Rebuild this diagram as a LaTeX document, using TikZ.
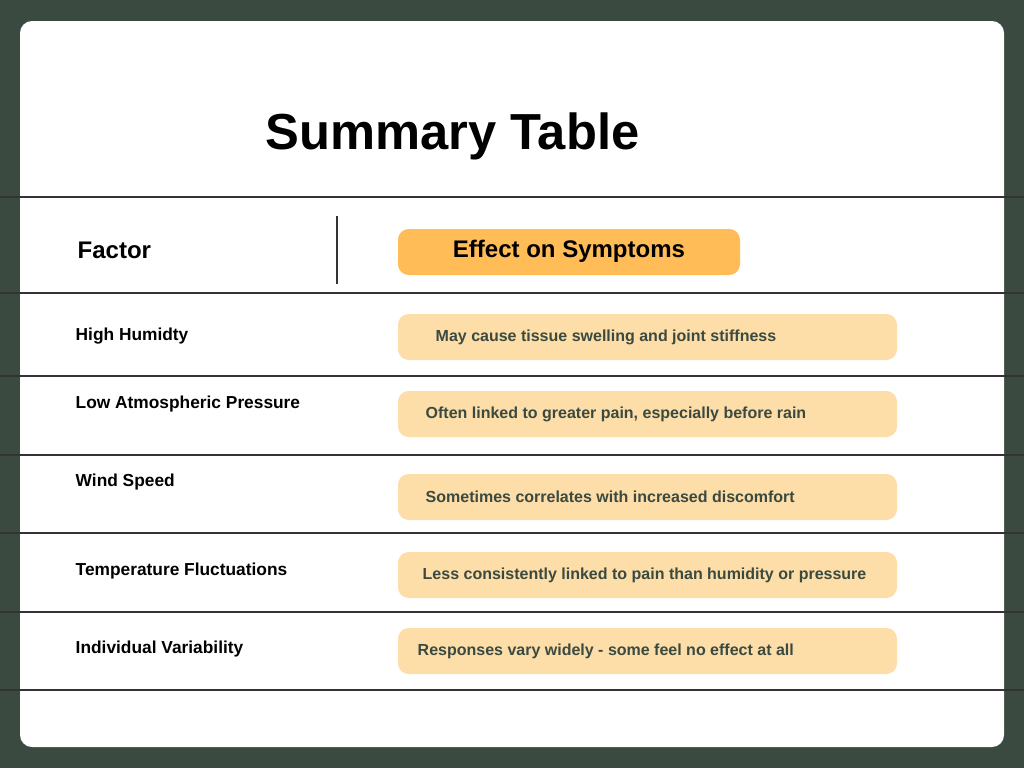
\documentclass[tikz,border=0pt]{standalone}
\usepackage{fontspec}
\setmainfont{Liberation Sans}
\definecolor{darkbg}{HTML}{3B4A40}
\definecolor{headpill}{HTML}{FFBC57}
\definecolor{rowpill}{HTML}{FDDDA8}
\definecolor{pilltext}{HTML}{3B4A40}
\tikzset{
  rowline/.style={line width=0.9pt, draw=black!80},
  factor/.style={anchor=west, font=\bfseries\fontsize{13}{15}\selectfont},
  effect/.style={anchor=west, text=pilltext, font=\bfseries\fontsize{12}{14}\selectfont},
}
\begin{document}
\begin{tikzpicture}[x=0.75pt,y=-0.75pt]
  %%%%% background and card %%%%%
  \fill[darkbg] (0,0) rectangle (1024,768);
  \useasboundingbox (0,0) rectangle (1024,768);
  \fill[white, rounded corners=9pt] (20,21) rectangle (1004,747);

  \node[anchor=west, font=\bfseries\fontsize{38}{44}\selectfont] (title) at (261,136) {Summary Table};

  %%%%% rules %%%%%
  \foreach \y in {197,293,376,455,533,612,690}
    \draw[rowline] (0,\y) -- (1024,\y);
  \draw[black!80, line width=0.8pt] (337,216) -- (337,284);

  %%%%% header %%%%%
  \node[factor, font=\bfseries\fontsize{18}{21}\selectfont] (hfactor) at (73,250) {Factor};
  \fill[headpill, rounded corners=8pt] (398,229) rectangle (740,275);
  \node[font=\bfseries\fontsize{18}{21}\selectfont] (heffect) at (569,251) {Effect on Symptoms};

  %%%%% rows %%%%%
  \foreach \fy/\py/\tx/\fac/\eff in {
      336/337/434/High Humidty/May cause tissue swelling and joint stiffness,
      404/414/424/Low Atmospheric Pressure/{Often linked to greater pain, especially before rain},
      482/497/424/Wind Speed/Sometimes correlates with increased discomfort,
      571/575/421/Temperature Fluctuations/Less consistently linked to pain than humidity or pressure,
      649/651/416/Individual Variability/Responses vary widely - some feel no effect at all} {
    \node[factor] at (71,\fy) {\fac};
    \fill[rowpill, rounded corners=8pt] (398,\py-23) rectangle (897,\py+23);
    \node[effect] at (\tx-3,\py) {\eff};
  }
\end{tikzpicture}
\end{document}
